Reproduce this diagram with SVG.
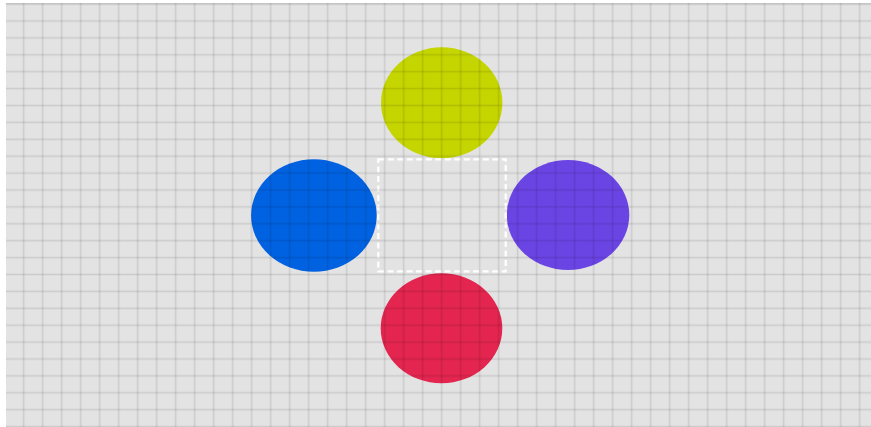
<svg xmlns="http://www.w3.org/2000/svg" width="871" height="427" viewBox="0 0 871 427">
  <defs>
    <pattern id="grid" patternUnits="userSpaceOnUse" x="-4.8" y="-4.35" width="19" height="16.9">
      <line x1="9.5" y1="0" x2="9.5" y2="16.9" class="gl"/>
      <line x1="0" y1="8.45" x2="19" y2="8.45" class="gl"/>
    </pattern>
  </defs>
  <style>
    .gl { stroke: #000; stroke-opacity: 0.1; stroke-width: 1.6; }
    .node { stroke: none; }
    .frame { fill: none; stroke: #ffffff; stroke-width: 2.2; stroke-dasharray: 6 3.5; }
  </style>
  <rect x="0" y="0" width="871" height="427" fill="#ffffff"/>
  <rect id="board" x="6" y="3" width="865" height="424" fill="#e3e3e3"/>
  <g id="node-top"><ellipse class="node" cx="441.7" cy="102.8" rx="60.7" ry="55.5" fill="#c4d500"/></g>
  <g id="node-left"><ellipse class="node" cx="313.9" cy="215.5" rx="62.8" ry="56.2" fill="#0062e1"/></g>
  <g id="node-right"><ellipse class="node" cx="568" cy="215" rx="61.3" ry="55" fill="#6b44e4"/></g>
  <g id="node-bottom"><ellipse class="node" cx="441.5" cy="328.3" rx="60.8" ry="55" fill="#e3254f"/></g>
  <g id="node-center"><rect class="frame" x="378.3" y="159.3" width="127.4" height="112"/></g>
  <g id="connectors"></g>
  <rect x="6" y="3" width="865" height="424" fill="url(#grid)"/>
  <line x1="6" y1="3.6" x2="871" y2="3.6" stroke="#000" stroke-opacity="0.08" stroke-width="1.2"/>
</svg>
